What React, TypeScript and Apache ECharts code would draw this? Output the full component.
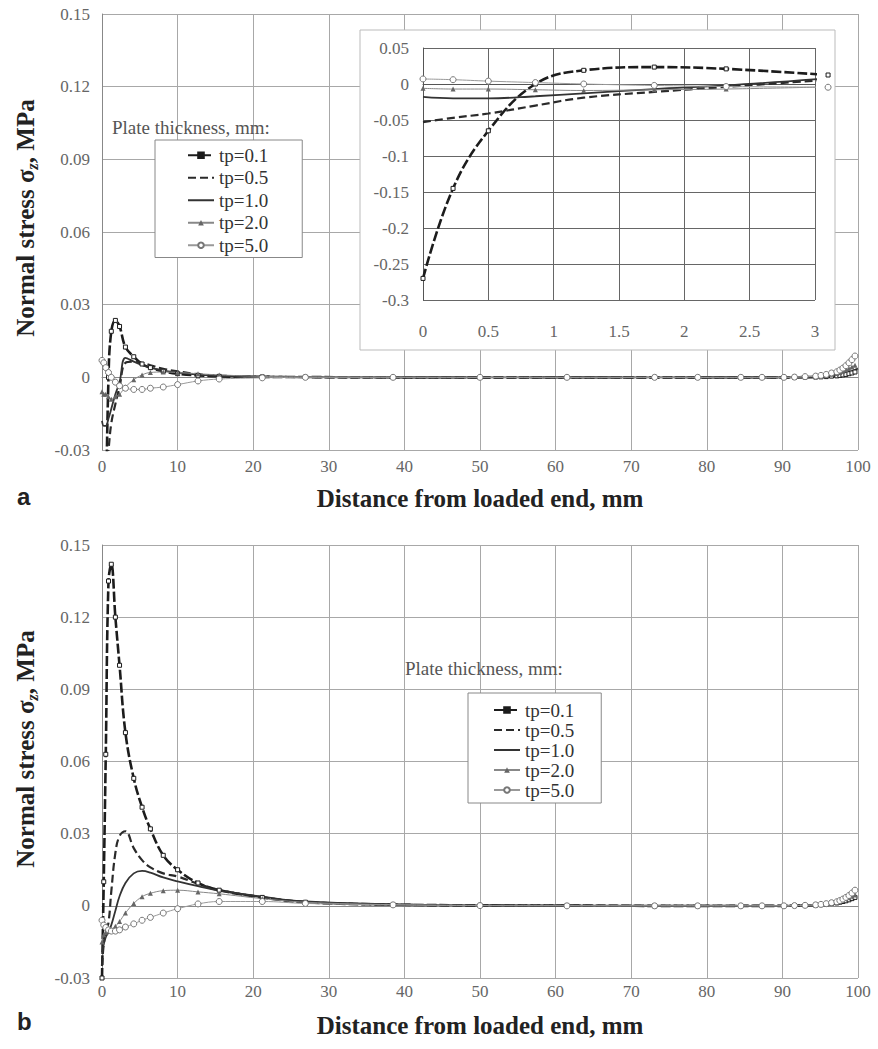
import React, { useEffect, useRef } from "react";
import * as echarts from "echarts";

// Distance from loaded end (mm) – mesh points of the model
const distance = [
  0, 0.23, 0.5, 0.86, 1.23, 1.77, 2.32, 3.1, 4.2, 5.3, 6.4, 8.1, 10,
  12.7, 15.5, 21.2, 26.9, 38.5, 50, 61.5, 73.1, 78.8, 84.5, 87.3,
  90.2, 91.6, 93, 94.4, 95.1, 95.8, 96.5, 97.2, 97.6, 98, 98.4, 98.8, 99.2, 99.6, 100,
];

const seriesNames = ["tp=0.1", "tp=0.5", "tp=1.0", "tp=2.0", "tp=5.0"];

// Panel a: normal stress (MPa)
const stressA_tp01 = [
  -0.27, -0.145, -0.065, 0.0, 0.019, 0.0235, 0.021, 0.0125, 0.0085, 0.0055, 0.004, 0.0025, 0.0015,
  0.0008, 0.0004, 0.0002, 0.0001, 0, 0, 0, 0, 0, 0, 0,
  0, 0, 0.0001, 0.0001, 0.0002, 0.0003, 0.0005, 0.0006, 0.0008, 0.001, 0.0012, 0.0015, 0.0018, 0.0022,
];
const stressA_tp05 = [
  -0.053, -0.047, -0.041, -0.03, -0.019, -0.011, -0.004, 0.006, 0.0065, 0.006, 0.005, 0.0035, 0.0025,
  0.0013, 0.0007, 0.0003, 0.0001, 0, 0, 0, 0, 0, 0, 0,
  0, 0, 0.0001, 0.0002, 0.0003, 0.0005, 0.0007, 0.0009, 0.0011, 0.0014, 0.0017, 0.0021, 0.0025, 0.003,
];
const stressA_tp10 = [
  -0.018, -0.02, -0.02, -0.017, -0.013, -0.007, -0.002, 0.008, 0.0065, 0.005, 0.004, 0.0028, 0.002,
  0.0011, 0.0006, 0.0002, 0.0001, 0, 0, 0, 0, 0, 0, 0,
  0, 0, 0, 0.0001, 0.0002, 0.0004, 0.0006, 0.0009, 0.0011, 0.0014, 0.0017, 0.0021, 0.0026, 0.0031, 0.0036,
];
const stressA_tp20 = [
  -0.006, -0.007, -0.007, -0.008, -0.009, -0.008, -0.007, -0.004, -0.001, 0.001, 0.002, 0.0022, 0.002,
  0.0015, 0.001, 0.0004, 0.0002, 0.0001, 0, 0, 0, 0, 0, 0,
  0, 0.0001, 0.0002, 0.0004, 0.0006, 0.0009, 0.0013, 0.0016, 0.002, 0.0025, 0.003, 0.0036, 0.0043, 0.005,
];
const stressA_tp50 = [
  0.007, 0.006, 0.004, 0.002, 0.0, -0.002, -0.0035, -0.0045, -0.005, -0.005, -0.0045, -0.004, -0.003,
  -0.0015, -0.0007, -0.0002, 0, 0, 0, 0, 0, 0, 0, 0,
  0, 0.0001, 0.0003, 0.0005, 0.0008, 0.0012, 0.0018, 0.0023, 0.003, 0.0038, 0.0048, 0.006, 0.0073, 0.0088,
];

// Panel b: normal stress (MPa)
const stressB_tp01 = [
  -0.03, 0.01, 0.063, 0.135, 0.142, 0.12, 0.1, 0.072, 0.053, 0.041, 0.032, 0.021, 0.015,
  0.0095, 0.0065, 0.0035, 0.0015, 0.0005, 0.0002, 0.0001, 0, 0, 0, 0,
  0, 0.0001, 0.0002, 0.0003, 0.0005, 0.0007, 0.001, 0.0012, 0.0015, 0.0018, 0.0021, 0.0025, 0.003, 0.0035,
];
const stressB_tp05 = [
  -0.025, -0.016, -0.011, -0.007, 0.006, 0.022, 0.029, 0.031, 0.024, 0.019, 0.016, 0.0135, 0.0122,
  0.0092, 0.0066, 0.0036, 0.0016, 0.0005, 0.0002, 0.0001, 0, 0, 0, 0,
  0, 0.0001, 0.0002, 0.0003, 0.0005, 0.0007, 0.0009, 0.0012, 0.0015, 0.0018, 0.0021, 0.0025, 0.0029, 0.0033,
];
const stressB_tp10 = [
  -0.02, -0.016, -0.013, -0.011, -0.008, -0.002, 0.004, 0.0095, 0.0135, 0.0145, 0.0138, 0.0118, 0.0102,
  0.0082, 0.0063, 0.0038, 0.0018, 0.0006, 0.0002, 0.0001, 0, 0, 0, 0,
  0, 0.0001, 0.0002, 0.0004, 0.0006, 0.0008, 0.001, 0.0013, 0.0016, 0.002, 0.0024, 0.0028, 0.0033, 0.0038,
];
const stressB_tp20 = [
  -0.015, -0.012, -0.011, -0.0105, -0.0098, -0.0085, -0.0065, -0.003, 0.001, 0.0038, 0.0052, 0.0063, 0.0065,
  0.0058, 0.005, 0.003, 0.0015, 0.0005, 0.0002, 0.0001, 0, 0, 0, 0,
  0, 0.0001, 0.0003, 0.0005, 0.0007, 0.001, 0.0014, 0.0017, 0.0021, 0.0025, 0.003, 0.0035, 0.004, 0.0045,
];
const stressB_tp50 = [
  -0.006, -0.008, -0.009, -0.01, -0.0105, -0.0105, -0.01, -0.0088, -0.0075, -0.006, -0.0048, -0.003, -0.0012,
  0.0008, 0.0018, 0.0018, 0.001, 0.0004, 0.0001, 0, 0, 0, 0, 0,
  0, 0.0001, 0.0002, 0.0004, 0.0006, 0.0009, 0.0013, 0.0017, 0.0022, 0.0028, 0.0035, 0.0043, 0.0053, 0.0065,
];

const panelA = [stressA_tp01, stressA_tp05, stressA_tp10, stressA_tp20, stressA_tp50];
const panelB = [stressB_tp01, stressB_tp05, stressB_tp10, stressB_tp20, stressB_tp50];

const insetMaxDistance = 3.1;

const SERIF = '"Liberation Serif", "Times New Roman", serif';
const SANS = '"Liberation Sans", Arial, sans-serif';

const seriesStyles: any[] = [
  {
    lineStyle: { color: "#1c1c1c", width: 2.6, type: [10, 3] },
    symbol: "rect",
    symbolSize: 4,
    itemStyle: { color: "#ffffff", borderColor: "#1c1c1c", borderWidth: 1 },
  },
  {
    lineStyle: { color: "#2a2a2a", width: 2.2, type: [8, 4] },
    symbol: "none",
    itemStyle: { color: "#2a2a2a" },
  },
  {
    lineStyle: { color: "#333333", width: 1.8, type: "solid" },
    symbol: "none",
    itemStyle: { color: "#333333" },
  },
  {
    lineStyle: { color: "#888888", width: 1, type: "solid" },
    symbol: "triangle",
    symbolSize: 5,
    itemStyle: { color: "#666666" },
  },
  {
    lineStyle: { color: "#999999", width: 1, type: "solid" },
    symbol: "circle",
    symbolSize: 6,
    itemStyle: { color: "#ffffff", borderColor: "#777777", borderWidth: 1 },
  },
];

// legend icon tweaks (symbol shown only where the original legend shows one)
const legendItems = [
  { name: seriesNames[0], itemStyle: { color: "#1c1c1c", borderColor: "#1c1c1c" } },
  { name: seriesNames[1], itemStyle: { opacity: 0 } },
  { name: seriesNames[2], itemStyle: { opacity: 0 } },
  { name: seriesNames[3] },
  { name: seriesNames[4] },
];

function buildSeries(values: number[][], xAxisIndex: number, yAxisIndex: number, maxX?: number, z = 2, clip = true) {
  return values.map((ys, k) => ({
    type: "line",
    name: seriesNames[k],
    xAxisIndex,
    yAxisIndex,
    data: distance
      .map((x, i) => [x, ys[i]])
      .filter((p) => (maxX === undefined ? true : p[0] <= maxX)),
    smooth: 0.4,
    clip,
    z,
    showSymbol: seriesStyles[k].symbol !== "none",
    ...seriesStyles[k],
  }));
}

const tickLabel = (margin: number) => ({
  fontFamily: SERIF,
  fontSize: 17,
  color: "#666",
  margin,
});

function mainXAxis(gridIndex: number, margin: number, nameGap: number) {
  return {
    type: "value",
    gridIndex,
    min: 0,
    max: 100,
    interval: 10,
    name: "Distance from loaded end, mm",
    nameLocation: "middle",
    nameGap,
    nameTextStyle: { fontFamily: SERIF, fontWeight: "bold", fontSize: 25, color: "#222" },
    axisLine: { lineStyle: { color: "#888" } },
    axisTick: { show: false },
    axisLabel: tickLabel(margin),
    splitLine: { show: true, lineStyle: { color: "#a8a8a8", width: 1 } },
  };
}

function mainYAxis(gridIndex: number) {
  return {
    type: "value",
    gridIndex,
    min: -0.03,
    max: 0.15,
    interval: 0.03,
    axisLine: { show: true, lineStyle: { color: "#888" } },
    axisTick: { show: false },
    axisLabel: tickLabel(12),
    splitLine: { show: true, lineStyle: { color: "#a8a8a8", width: 1 } },
  };
}

const legendBase = {
  orient: "vertical",
  data: legendItems,
  itemWidth: 26,
  itemHeight: 7,
  backgroundColor: "#ffffff",
  borderColor: "#888",
  borderWidth: 1,
  borderRadius: 0,
  selectedMode: false,
  z: 30,
};

export default function App() {
  const ref = useRef<HTMLDivElement>(null);

  useEffect(() => {
    document.body.style.margin = "0";
    if (!ref.current) return;
    const chart = echarts.init(ref.current, undefined, { renderer: "svg" });

    const option: any = {
      animation: false,
      backgroundColor: "#ffffff",
      grid: [
        { left: 102, top: 14, width: 756, height: 436, show: false },
        { left: 423, top: 48, width: 392, height: 252, show: false, z: 20 },
        { left: 102, top: 545, width: 756, height: 433, show: false },
      ],
      xAxis: [
        mainXAxis(0, 8, 36),
        {
          type: "value",
          gridIndex: 1,
          min: 0,
          max: 3,
          interval: 0.5,
          z: 20,
          axisLine: { lineStyle: { color: "#555" } },
          axisTick: { show: false },
          axisLabel: tickLabel(23),
          splitLine: { show: true, lineStyle: { color: "#666", width: 1 } },
        },
        mainXAxis(2, 5, 35),
      ],
      yAxis: [
        mainYAxis(0),
        {
          type: "value",
          gridIndex: 1,
          min: -0.3,
          max: 0.05,
          interval: 0.05,
          z: 20,
          axisLine: { show: true, lineStyle: { color: "#555" } },
          axisTick: { show: false },
          axisLabel: tickLabel(14),
          splitLine: { show: true, lineStyle: { color: "#666", width: 1 } },
        },
        mainYAxis(2),
      ],
      legend: [
        {
          ...legendBase,
          left: 155,
          top: 140,
          padding: [5, 34, 2, 32],
          itemGap: 2,
          textStyle: { fontFamily: SERIF, fontSize: 19, color: "#333", lineHeight: 20.5 },
        },
        {
          ...legendBase,
          left: 468,
          top: 693,
          padding: [7, 27, 3, 25],
          itemGap: 0,
          textStyle: { fontFamily: SERIF, fontSize: 19, color: "#333", lineHeight: 20 },
        },
      ],
      graphic: [
        {
          type: "rect",
          z: 10,
          shape: { x: 360, y: 30, width: 475, height: 320 },
          style: { fill: "#ffffff", stroke: "#bbbbbb", lineWidth: 1 },
        },
        {
          type: "text",
          z: 30,
          x: 112,
          y: 127,
          style: { text: "Plate thickness, mm:", font: `19px ${SERIF}`, fill: "#555", verticalAlign: "middle" },
        },
        {
          type: "text",
          z: 30,
          x: 405,
          y: 668,
          style: { text: "Plate thickness, mm:", font: `19px ${SERIF}`, fill: "#555", verticalAlign: "middle" },
        },
        {
          type: "text",
          z: 30,
          x: 17,
          y: 496,
          style: { text: "a", font: `bold 24px ${SANS}`, fill: "#222", verticalAlign: "middle" },
        },
        {
          type: "text",
          z: 30,
          x: 17,
          y: 1021,
          style: { text: "b", font: `bold 24px ${SANS}`, fill: "#222", verticalAlign: "middle" },
        },
        ...[218, 749].map((cy) => ({
          type: "text",
          z: 30,
          x: 25,
          y: cy,
          rotation: Math.PI / 2,
          style: {
            text: "{m|Normal stress σ}{s|z}{m|, MPa}",
            align: "center",
            verticalAlign: "middle",
            fill: "#222",
            rich: {
              m: { fontFamily: SERIF, fontWeight: "bold", fontSize: 25, fill: "#222", lineHeight: 30, verticalAlign: "middle" },
              s: { fontFamily: SERIF, fontWeight: "bold", fontStyle: "italic", fontSize: 16, fill: "#222", lineHeight: 14, verticalAlign: "bottom" },
            },
          },
        })),
      ],
      series: [
        ...buildSeries(panelA, 0, 0),
        ...buildSeries(panelA, 1, 1, insetMaxDistance, 21, false),
        ...buildSeries(panelB, 2, 2),
      ],
    };

    chart.setOption(option);
    return () => chart.dispose();
  }, []);

  return <div ref={ref} style={{ width: 878, height: 1049 }} />;
}
